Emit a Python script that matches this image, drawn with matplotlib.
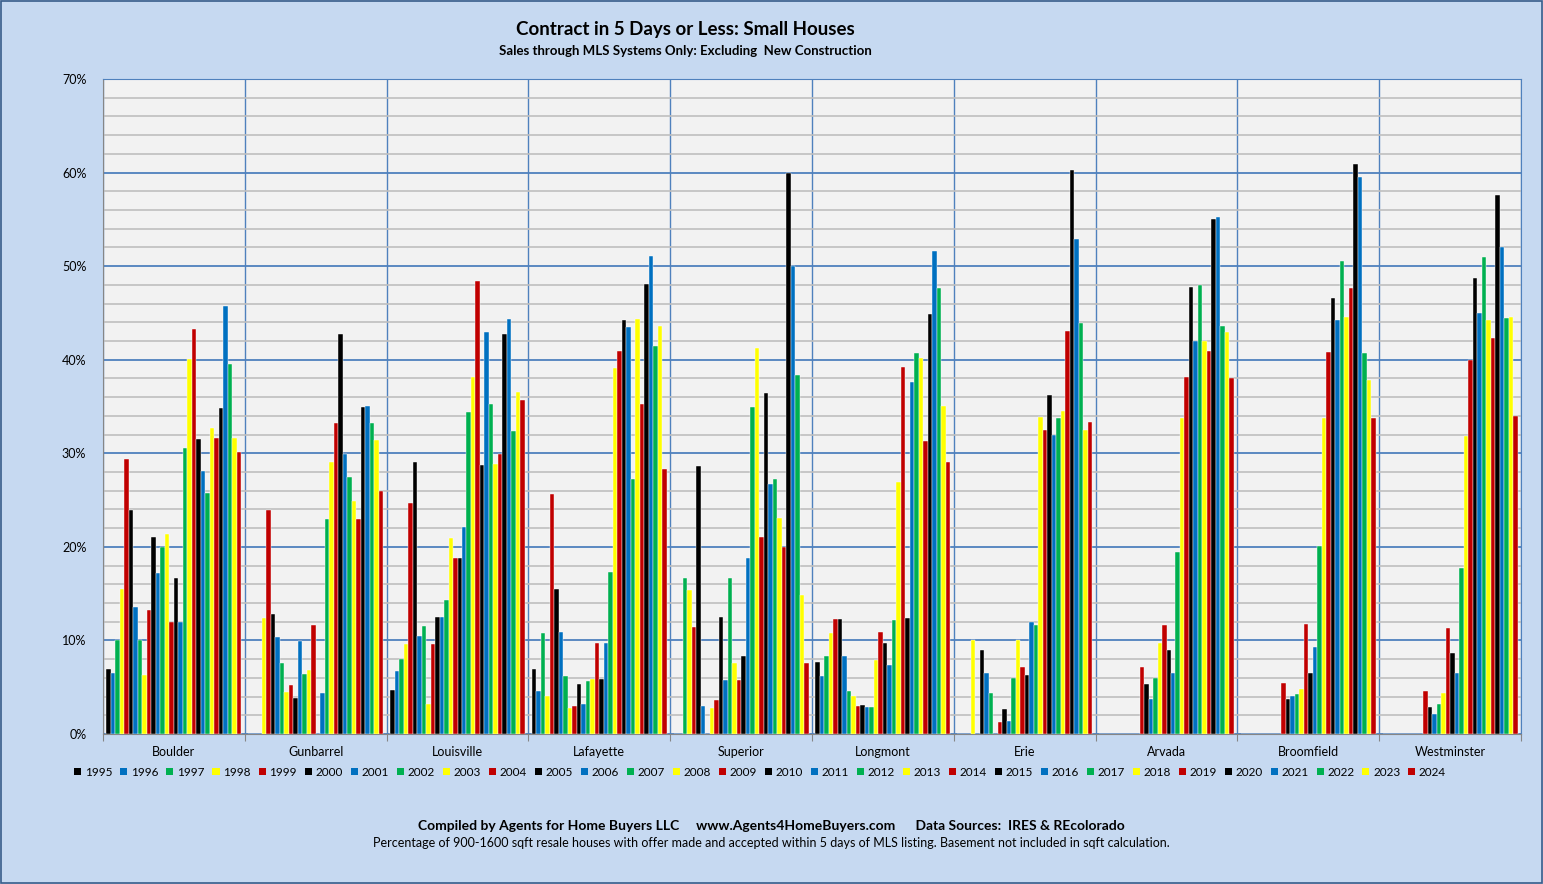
import numpy as np
import matplotlib
matplotlib.use("Agg")
import matplotlib.pyplot as plt
from matplotlib.patches import Rectangle, Patch

plt.rcParams['font.family'] = ['Lato', 'DejaVu Sans']

cities = ['Boulder', 'Gunbarrel', 'Louisville', 'Lafayette', 'Superior',
          'Longmont', 'Erie', 'Arvada', 'Broomfield', 'Westminster']
years = list(range(1995, 2025))

# percent of houses under contract in 5 days or less, 1995..2024
boulder = [7.0, 6.5, 10.0, 15.5, 29.4, 23.9, 13.6, 10.0, 6.3, 13.2,
           21.1, 17.2, 20.0, 21.4, 12.0, 16.7, 12.0, 30.6, 40.1, 43.3,
           31.5, 28.1, 25.8, 32.7, 31.6, 34.8, 45.7, 39.5, 31.6, 30.1]
gunbarrel = [0, 0, 0, 12.4, 23.9, 12.8, 10.4, 7.6, 4.5, 5.2,
             3.9, 9.9, 6.4, 6.8, 11.7, 0, 4.4, 23.0, 29.1, 33.2,
             42.8, 29.9, 27.5, 24.9, 23.0, 34.9, 35.1, 33.2, 31.4, 26.0]
louisville = [4.7, 6.7, 8.0, 9.6, 24.7, 29.1, 10.5, 11.5, 3.2, 9.6,
              12.5, 12.5, 14.3, 21.0, 18.8, 18.8, 22.1, 34.4, 38.1, 48.4,
              28.7, 43.0, 35.3, 28.9, 29.9, 42.7, 44.3, 32.4, 36.5, 35.7]
lafayette = [6.9, 4.6, 10.8, 4.1, 25.6, 15.5, 10.9, 6.2, 2.8, 3.0,
             5.3, 3.2, 5.7, 5.9, 9.7, 5.9, 9.7, 17.3, 39.1, 40.9,
             44.2, 43.5, 27.3, 44.3, 35.3, 48.1, 51.1, 41.5, 43.6, 28.3]
superior = [0, 0, 16.7, 15.4, 11.4, 28.6, 3.0, 0, 2.8, 3.6,
            12.5, 5.8, 16.7, 7.6, 5.8, 8.3, 18.8, 35.0, 41.2, 21.1,
            36.4, 26.7, 27.3, 23.1, 20.0, 60.0, 50.0, 38.4, 14.9, 7.6]
longmont = [7.7, 6.2, 8.3, 10.8, 12.3, 12.3, 8.3, 4.6, 4.1, 3.0,
            3.1, 2.9, 2.9, 7.9, 10.9, 9.7, 7.4, 12.2, 26.9, 39.2,
            12.4, 37.6, 40.7, 40.2, 31.3, 44.9, 51.6, 47.7, 35.1, 29.1]
erie = [0, 0, 0, 10.0, 0, 9.0, 6.5, 4.4, 0, 1.3,
        2.7, 1.4, 6.0, 10.0, 7.2, 6.3, 12.0, 11.6, 33.9, 32.5,
        36.2, 32.0, 33.8, 34.5, 43.1, 60.3, 52.9, 43.9, 32.5, 33.3]
arvada = [0, 0, 0, 0, 0, 0, 0, 0, 0, 7.2,
          5.3, 3.7, 6.0, 9.7, 11.7, 9.0, 6.5, 19.4, 33.8, 38.1,
          47.8, 42.0, 48.0, 42.0, 40.9, 55.0, 55.3, 43.6, 43.0, 38.0]
broomfield = [0, 0, 0, 0, 0, 0, 0, 0, 0, 5.5,
              3.7, 4.1, 4.3, 4.8, 11.8, 6.5, 9.3, 20.1, 33.8, 40.8,
              46.6, 44.2, 50.6, 44.6, 47.7, 60.9, 59.5, 40.7, 37.8, 33.8]
westminster = [0, 0, 0, 0, 0, 0, 0, 0, 0, 4.6,
               2.9, 2.1, 3.2, 4.4, 11.3, 8.7, 6.5, 17.7, 31.8, 40.0,
               48.7, 45.0, 51.0, 44.2, 42.3, 57.6, 52.0, 44.5, 44.6, 34.0]

data = np.array([boulder, gunbarrel, louisville, lafayette, superior,
                 longmont, erie, arvada, broomfield, westminster])

palette = ['#000000', '#0070C0', '#00B050', '#FFFF00', '#C00000']

fig = plt.figure(figsize=(15.43, 8.84), dpi=100, facecolor='#C6D9F1')
fig.patches.append(Rectangle((0.0005, 0.0008), 0.999, 0.998, transform=fig.transFigure,
                             fill=False, edgecolor='#385D8A', linewidth=1.2))
ax = fig.add_axes([103 / 1543, 1 - 734 / 884, (1521 - 103) / 1543, (734 - 79) / 884])
ax.set_facecolor('#F2F2F2')

n = len(years)
w = 0.0317
centers = np.arange(len(cities)) + 0.5
for j, yr in enumerate(years):
    ax.bar(centers + (j - (n - 1) / 2) * w, data[:, j], width=w,
           color=palette[j % 5], edgecolor='white', linewidth=0.3,
           label=str(yr), zorder=3)

ax.set_xlim(0, len(cities))
ax.set_ylim(0, 70)
ax.set_yticks(np.arange(0, 71, 10))
ax.set_yticks(np.arange(0, 71, 2), minor=True)
ax.set_yticklabels([f'{v}%' for v in range(0, 71, 10)], fontsize=9)
ax.set_xticks(np.arange(0, len(cities) + 1))
ax.set_xticklabels([])
ax.set_xticks(centers, minor=True)
ax.set_xticklabels(cities, minor=True, fontsize=9)
ax.tick_params(axis='x', which='major', length=5, color='#868686')
ax.tick_params(axis='x', which='minor', length=0, pad=9)
ax.tick_params(axis='y', which='both', length=0, pad=12)

ax.grid(axis='y', which='minor', color='#BFBFBF', linewidth=1.2, zorder=0)
ax.grid(axis='y', which='major', color='#4F81BD', linewidth=1.3, zorder=1)
ax.grid(axis='x', which='major', color='#4F81BD', linewidth=1.0, zorder=1)
ax.set_axisbelow(True)
for s in ['top', 'right']:
    ax.spines[s].set_color('#4F81BD')
for s in ['left', 'bottom']:
    ax.spines[s].set_color('#868686')

handles = [Patch(facecolor=palette[j % 5], edgecolor='none') for j in range(n)]
fig.legend(handles, [str(y) for y in years], ncol=n, loc='center',
           bbox_to_anchor=(760 / 1543, 1 - 772 / 884), frameon=False, fontsize=8.5,
           handlelength=0.6, handleheight=0.6, handletextpad=0.3, columnspacing=0.68)

fig.text(685 / 1543, 1 - 30 / 884, 'Contract in 5 Days or Less: Small Houses',
         ha='center', va='center', fontsize=13.5, fontweight='bold')
fig.text(685 / 1543, 1 - 51 / 884, 'Sales through MLS Systems Only: Excluding  New Construction',
         ha='center', va='center', fontsize=9.5, fontweight='bold')
fig.text(771 / 1543, 1 - 826 / 884,
         'Compiled by Agents for Home Buyers LLC     www.Agents4HomeBuyers.com      Data Sources:  IRES & REcolorado',
         ha='center', va='center', fontsize=10, fontweight='bold')
fig.text(771 / 1543, 1 - 843 / 884,
         'Percentage of 900-1600 sqft resale houses with offer made and accepted within 5 days of MLS listing. '
         'Basement not included in sqft calculation.',
         ha='center', va='center', fontsize=9)

fig.savefig('out.png', dpi=100, facecolor=fig.get_facecolor())
